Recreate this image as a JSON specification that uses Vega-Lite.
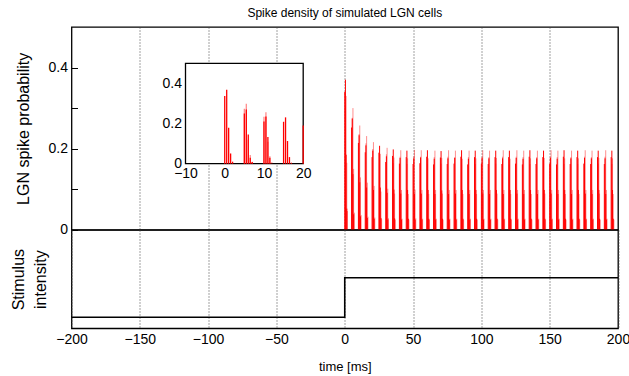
{
  "$schema": "https://vega.github.io/schema/vega-lite/v6.json",
  "padding": {"left": 9.5, "top": 6, "right": 5, "bottom": 4},
  "spacing": 0,
  "bounds": "flush",
  "config": {
    "font": "Liberation Sans",
    "view": {"stroke": "black", "strokeWidth": 1.3},
    "axis": {"titleFontWeight": "normal", "labelColor": "black", "titleColor": "black", "gridColor": "#444", "gridDash": [1, 2], "gridWidth": 1, "labelFontSize": 14}
  },
  "datasets": {
    "a": [
      {"t":0,"p":0.34},{"t":0.5,"p":0.37},{"t":1,"p":0.185},{"t":1.5,"p":0.052},
      {"t":5,"p":0.252},{"t":5.5,"p":0.274},{"t":6,"p":0.137},{"t":6.5,"p":0.038},
      {"t":10,"p":0.214},{"t":10.5,"p":0.233},{"t":11,"p":0.117},{"t":11.5,"p":0.033},
      {"t":15,"p":0.191},{"t":15.5,"p":0.208},{"t":16,"p":0.104},{"t":16.5,"p":0.029},
      {"t":20,"p":0.179},{"t":20.5,"p":0.195},{"t":21,"p":0.098},{"t":21.5,"p":0.027},
      {"t":25,"p":0.19},{"t":25.5,"p":0.207},{"t":26,"p":0.104},{"t":26.5,"p":0.029},
      {"t":30,"p":0.167},{"t":30.5,"p":0.181},{"t":31,"p":0.091},{"t":31.5,"p":0.025},
      {"t":35,"p":0.182},{"t":35.5,"p":0.198},{"t":36,"p":0.099},{"t":36.5,"p":0.028},
      {"t":40,"p":0.163},{"t":40.5,"p":0.177},{"t":41,"p":0.089},{"t":41.5,"p":0.025},
      {"t":45,"p":0.179},{"t":45.5,"p":0.195},{"t":46,"p":0.098},{"t":46.5,"p":0.027},
      {"t":50,"p":0.162},{"t":50.5,"p":0.176},{"t":51,"p":0.088},{"t":51.5,"p":0.025},
      {"t":55,"p":0.164},{"t":55.5,"p":0.178},{"t":56,"p":0.089},{"t":56.5,"p":0.025},
      {"t":60,"p":0.18},{"t":60.5,"p":0.196},{"t":61,"p":0.098},{"t":61.5,"p":0.027},
      {"t":65,"p":0.161},{"t":65.5,"p":0.175},{"t":66,"p":0.088},{"t":66.5,"p":0.025},
      {"t":70,"p":0.178},{"t":70.5,"p":0.194},{"t":71,"p":0.097},{"t":71.5,"p":0.027},
      {"t":75,"p":0.162},{"t":75.5,"p":0.176},{"t":76,"p":0.088},{"t":76.5,"p":0.025},
      {"t":80,"p":0.163},{"t":80.5,"p":0.177},{"t":81,"p":0.089},{"t":81.5,"p":0.025},
      {"t":85,"p":0.18},{"t":85.5,"p":0.196},{"t":86,"p":0.098},{"t":86.5,"p":0.027},
      {"t":90,"p":0.161},{"t":90.5,"p":0.175},{"t":91,"p":0.088},{"t":91.5,"p":0.025},
      {"t":95,"p":0.179},{"t":95.5,"p":0.195},{"t":96,"p":0.098},{"t":96.5,"p":0.027},
      {"t":100,"p":0.163},{"t":100.5,"p":0.177},{"t":101,"p":0.089},{"t":101.5,"p":0.025},
      {"t":105,"p":0.162},{"t":105.5,"p":0.176},{"t":106,"p":0.088},{"t":106.5,"p":0.025},
      {"t":110,"p":0.179},{"t":110.5,"p":0.195},{"t":111,"p":0.098},{"t":111.5,"p":0.027},
      {"t":115,"p":0.162},{"t":115.5,"p":0.176},{"t":116,"p":0.088},{"t":116.5,"p":0.025},
      {"t":120,"p":0.179},{"t":120.5,"p":0.195},{"t":121,"p":0.098},{"t":121.5,"p":0.027},
      {"t":125,"p":0.163},{"t":125.5,"p":0.177},{"t":126,"p":0.089},{"t":126.5,"p":0.025},
      {"t":130,"p":0.161},{"t":130.5,"p":0.175},{"t":131,"p":0.088},{"t":131.5,"p":0.025},
      {"t":135,"p":0.18},{"t":135.5,"p":0.196},{"t":136,"p":0.098},{"t":136.5,"p":0.027},
      {"t":140,"p":0.162},{"t":140.5,"p":0.176},{"t":141,"p":0.088},{"t":141.5,"p":0.025},
      {"t":145,"p":0.179},{"t":145.5,"p":0.195},{"t":146,"p":0.098},{"t":146.5,"p":0.027},
      {"t":150,"p":0.163},{"t":150.5,"p":0.177},{"t":151,"p":0.089},{"t":151.5,"p":0.025},
      {"t":155,"p":0.161},{"t":155.5,"p":0.175},{"t":156,"p":0.088},{"t":156.5,"p":0.025},
      {"t":160,"p":0.18},{"t":160.5,"p":0.196},{"t":161,"p":0.098},{"t":161.5,"p":0.027},
      {"t":165,"p":0.162},{"t":165.5,"p":0.176},{"t":166,"p":0.088},{"t":166.5,"p":0.025},
      {"t":170,"p":0.179},{"t":170.5,"p":0.195},{"t":171,"p":0.098},{"t":171.5,"p":0.027},
      {"t":175,"p":0.163},{"t":175.5,"p":0.177},{"t":176,"p":0.089},{"t":176.5,"p":0.025},
      {"t":180,"p":0.162},{"t":180.5,"p":0.176},{"t":181,"p":0.088},{"t":181.5,"p":0.025},
      {"t":185,"p":0.179},{"t":185.5,"p":0.195},{"t":186,"p":0.098},{"t":186.5,"p":0.027},
      {"t":190,"p":0.162},{"t":190.5,"p":0.176},{"t":191,"p":0.088},{"t":191.5,"p":0.025},
      {"t":195,"p":0.179},{"t":195.5,"p":0.195},{"t":196,"p":0.098},{"t":196.5,"p":0.027}
    ],
    "b": [
      {"t":0.5,"p":0.304},{"t":1,"p":0.33},{"t":1.5,"p":0.165},{"t":2,"p":0.046},
      {"t":5.5,"p":0.276},{"t":6,"p":0.3},{"t":6.5,"p":0.15},{"t":7,"p":0.042},
      {"t":10.5,"p":0.236},{"t":11,"p":0.257},{"t":11.5,"p":0.129},{"t":12,"p":0.036},
      {"t":15.5,"p":0.213},{"t":16,"p":0.231},{"t":16.5,"p":0.116},{"t":17,"p":0.032},
      {"t":20.5,"p":0.199},{"t":21,"p":0.216},{"t":21.5,"p":0.108},{"t":22,"p":0.03},
      {"t":25.5,"p":0.172},{"t":26,"p":0.187},{"t":26.5,"p":0.094},{"t":27,"p":0.026},
      {"t":30.5,"p":0.186},{"t":31,"p":0.202},{"t":31.5,"p":0.101},{"t":32,"p":0.028},
      {"t":35.5,"p":0.164},{"t":36,"p":0.178},{"t":36.5,"p":0.089},{"t":37,"p":0.025},
      {"t":40.5,"p":0.18},{"t":41,"p":0.196},{"t":41.5,"p":0.098},{"t":42,"p":0.027},
      {"t":45.5,"p":0.162},{"t":46,"p":0.176},{"t":46.5,"p":0.088},{"t":47,"p":0.025},
      {"t":50.5,"p":0.181},{"t":51,"p":0.197},{"t":51.5,"p":0.099},{"t":52,"p":0.028},
      {"t":55.5,"p":0.18},{"t":56,"p":0.196},{"t":56.5,"p":0.098},{"t":57,"p":0.027},
      {"t":60.5,"p":0.162},{"t":61,"p":0.176},{"t":61.5,"p":0.088},{"t":62,"p":0.025},
      {"t":65.5,"p":0.179},{"t":66,"p":0.195},{"t":66.5,"p":0.098},{"t":67,"p":0.027},
      {"t":70.5,"p":0.163},{"t":71,"p":0.177},{"t":71.5,"p":0.089},{"t":72,"p":0.025},
      {"t":75.5,"p":0.18},{"t":76,"p":0.196},{"t":76.5,"p":0.098},{"t":77,"p":0.027},
      {"t":80.5,"p":0.179},{"t":81,"p":0.195},{"t":81.5,"p":0.098},{"t":82,"p":0.027},
      {"t":85.5,"p":0.161},{"t":86,"p":0.175},{"t":86.5,"p":0.088},{"t":87,"p":0.025},
      {"t":90.5,"p":0.179},{"t":91,"p":0.195},{"t":91.5,"p":0.098},{"t":92,"p":0.027},
      {"t":95.5,"p":0.162},{"t":96,"p":0.176},{"t":96.5,"p":0.088},{"t":97,"p":0.025},
      {"t":100.5,"p":0.18},{"t":101,"p":0.196},{"t":101.5,"p":0.098},{"t":102,"p":0.027},
      {"t":105.5,"p":0.179},{"t":106,"p":0.195},{"t":106.5,"p":0.098},{"t":107,"p":0.027},
      {"t":110.5,"p":0.163},{"t":111,"p":0.177},{"t":111.5,"p":0.089},{"t":112,"p":0.025},
      {"t":115.5,"p":0.18},{"t":116,"p":0.196},{"t":116.5,"p":0.098},{"t":117,"p":0.027},
      {"t":120.5,"p":0.161},{"t":121,"p":0.175},{"t":121.5,"p":0.088},{"t":122,"p":0.025},
      {"t":125.5,"p":0.18},{"t":126,"p":0.196},{"t":126.5,"p":0.098},{"t":127,"p":0.027},
      {"t":130.5,"p":0.179},{"t":131,"p":0.195},{"t":131.5,"p":0.098},{"t":132,"p":0.027},
      {"t":135.5,"p":0.162},{"t":136,"p":0.176},{"t":136.5,"p":0.088},{"t":137,"p":0.025},
      {"t":140.5,"p":0.179},{"t":141,"p":0.195},{"t":141.5,"p":0.098},{"t":142,"p":0.027},
      {"t":145.5,"p":0.163},{"t":146,"p":0.177},{"t":146.5,"p":0.089},{"t":147,"p":0.025},
      {"t":150.5,"p":0.18},{"t":151,"p":0.196},{"t":151.5,"p":0.098},{"t":152,"p":0.027},
      {"t":155.5,"p":0.179},{"t":156,"p":0.195},{"t":156.5,"p":0.098},{"t":157,"p":0.027},
      {"t":160.5,"p":0.162},{"t":161,"p":0.176},{"t":161.5,"p":0.088},{"t":162,"p":0.025},
      {"t":165.5,"p":0.179},{"t":166,"p":0.195},{"t":166.5,"p":0.098},{"t":167,"p":0.027},
      {"t":170.5,"p":0.162},{"t":171,"p":0.176},{"t":171.5,"p":0.088},{"t":172,"p":0.025},
      {"t":175.5,"p":0.18},{"t":176,"p":0.196},{"t":176.5,"p":0.098},{"t":177,"p":0.027},
      {"t":180.5,"p":0.179},{"t":181,"p":0.195},{"t":181.5,"p":0.098},{"t":182,"p":0.027},
      {"t":185.5,"p":0.163},{"t":186,"p":0.177},{"t":186.5,"p":0.089},{"t":187,"p":0.025},
      {"t":190.5,"p":0.18},{"t":191,"p":0.196},{"t":191.5,"p":0.098},{"t":192,"p":0.027},
      {"t":195.5,"p":0.162},{"t":196,"p":0.176},{"t":196.5,"p":0.088},{"t":197,"p":0.025}
    ],
    "ia": [
      {"t":0,"p":0.338},{"t":0.5,"p":0.369},{"t":1,"p":0.179},{"t":1.5,"p":0.051},{"t":2,"p":0.01},
      {"t":5,"p":0.25},{"t":5.5,"p":0.27},{"t":6,"p":0.146},{"t":6.5,"p":0.03},{"t":7,"p":0.008},
      {"t":10,"p":0.21},{"t":10.5,"p":0.235},{"t":11,"p":0.133},{"t":11.5,"p":0.03},
      {"t":15,"p":0.209},{"t":15.5,"p":0.231},{"t":16,"p":0.113},{"t":16.5,"p":0.033},{"t":17,"p":0.005},
      {"t":20,"p":0.19}
    ],
    "ib": [
      {"t":5,"p":0.274},{"t":5.5,"p":0.299},{"t":6,"p":0.12},{"t":6.5,"p":0.043},{"t":7,"p":0.01},
      {"t":10,"p":0.234},{"t":10.5,"p":0.256},{"t":11,"p":0.11},{"t":11.5,"p":0.037},{"t":12,"p":0.007}
    ],
    "stim": [
      {"t":-200,"s":0.112},{"t":0,"s":0.515},{"t":200,"s":0.515}
    ]
  },
  "vconcat": [
    {
      "title": {"text": "Spike density of simulated LGN cells", "fontSize": 12, "fontWeight": "normal", "anchor": "middle", "frame": "group", "offset": 7, "color": "black"},
      "width": 546.5,
      "height": 202.7,
      "layer": [
        {
          "layer": [
            {
              "data": {"name": "a"},
              "mark": {"type": "rule", "color": "#ff0000", "strokeWidth": 1},
              "encoding": {
                "x": {"field": "t", "type": "quantitative", "scale": {"domain": [-200, 200], "nice": false},
                  "axis": {"title": null, "labels": false, "ticks": false, "domain": false, "grid": true, "values": [-150, -100, -50, 0, 50, 100, 150]}},
                "y": {"field": "p", "type": "quantitative", "scale": {"domain": [0, 0.5], "nice": false},
                  "axis": {"title": "LGN spike probability", "titleFontSize": 16, "titlePadding": 17, "values": [0, 0.1, 0.2, 0.3, 0.4],
                    "labelExpr": "datum.value == 0.1 || datum.value == 0.3 ? '' : format(datum.value, '~g')",
                    "tickSize": -6, "tickColor": "black", "labelPadding": 10, "domain": false, "grid": false}},
                "y2": {"datum": 0}
              }
            },
            {
              "data": {"name": "b"},
              "mark": {"type": "rule", "color": "#ff0000", "opacity": 0.45, "strokeWidth": 1},
              "encoding": {
                "x": {"field": "t", "type": "quantitative"},
                "y": {"field": "p", "type": "quantitative"},
                "y2": {"datum": 0}
              }
            }
          ]
        },
        {
          "layer": [
            {
              "data": {"values": [{}]},
              "mark": {"type": "rect", "fill": "white", "stroke": "black", "strokeWidth": 1.3},
              "encoding": {
                "x": {"datum": -10, "type": "quantitative", "scale": {"domain": [-10, 20], "range": [114, 231.7], "nice": false},
                  "axis": {"orient": "bottom", "offset": -66, "title": null, "values": [-10, 0, 10, 20], "ticks": false, "domain": false, "grid": false, "labelPadding": 3, "zindex": 1, "labelFlush": false}},
                "x2": {"datum": 20},
                "y": {"datum": 0, "type": "quantitative", "scale": {"domain": [0, 0.5], "range": [136.7, 36.4], "nice": false},
                  "axis": {"orient": "left", "offset": -114, "title": null, "values": [0, 0.2, 0.4], "format": "~g", "ticks": false, "domain": false, "grid": false, "labelPadding": 4, "zindex": 1}},
                "y2": {"datum": 0.5}
              }
            },
            {
              "data": {"name": "ia"},
              "mark": {"type": "rule", "color": "#ff0000", "strokeWidth": 1.3},
              "encoding": {
                "x": {"field": "t", "type": "quantitative"},
                "y": {"field": "p", "type": "quantitative"},
                "y2": {"datum": 0}
              }
            },
            {
              "data": {"name": "ib"},
              "mark": {"type": "rule", "color": "#ff0000", "opacity": 0.45, "strokeWidth": 1.3},
              "encoding": {
                "x": {"field": "t", "type": "quantitative"},
                "y": {"field": "p", "type": "quantitative"},
                "y2": {"datum": 0}
              }
            }
          ]
        }
      ],
      "resolve": {"scale": {"x": "independent", "y": "independent"}, "axis": {"x": "independent", "y": "independent"}}
    },
    {
      "width": 546.5,
      "height": 98.3,
      "data": {"name": "stim"},
      "mark": {"type": "line", "interpolate": "step-after", "color": "black", "strokeWidth": 1.6},
      "encoding": {
        "x": {"field": "t", "type": "quantitative", "scale": {"domain": [-200, 200], "nice": false},
          "axis": {"title": "time [ms]", "titleFontSize": 13, "titlePadding": 14, "values": [-200, -150, -100, -50, 0, 50, 100, 150, 200], "ticks": false, "domain": false, "grid": true, "labelPadding": 4, "labelFlush": false}},
        "y": {"field": "s", "type": "quantitative", "scale": {"domain": [0, 1], "nice": false},
          "axis": {"title": ["Stimulus", "intensity"], "titleFontSize": 16, "titlePadding": 23, "titleLineHeight": 22, "labels": false, "ticks": false, "domain": false, "grid": false}}
      }
    }
  ]
}
